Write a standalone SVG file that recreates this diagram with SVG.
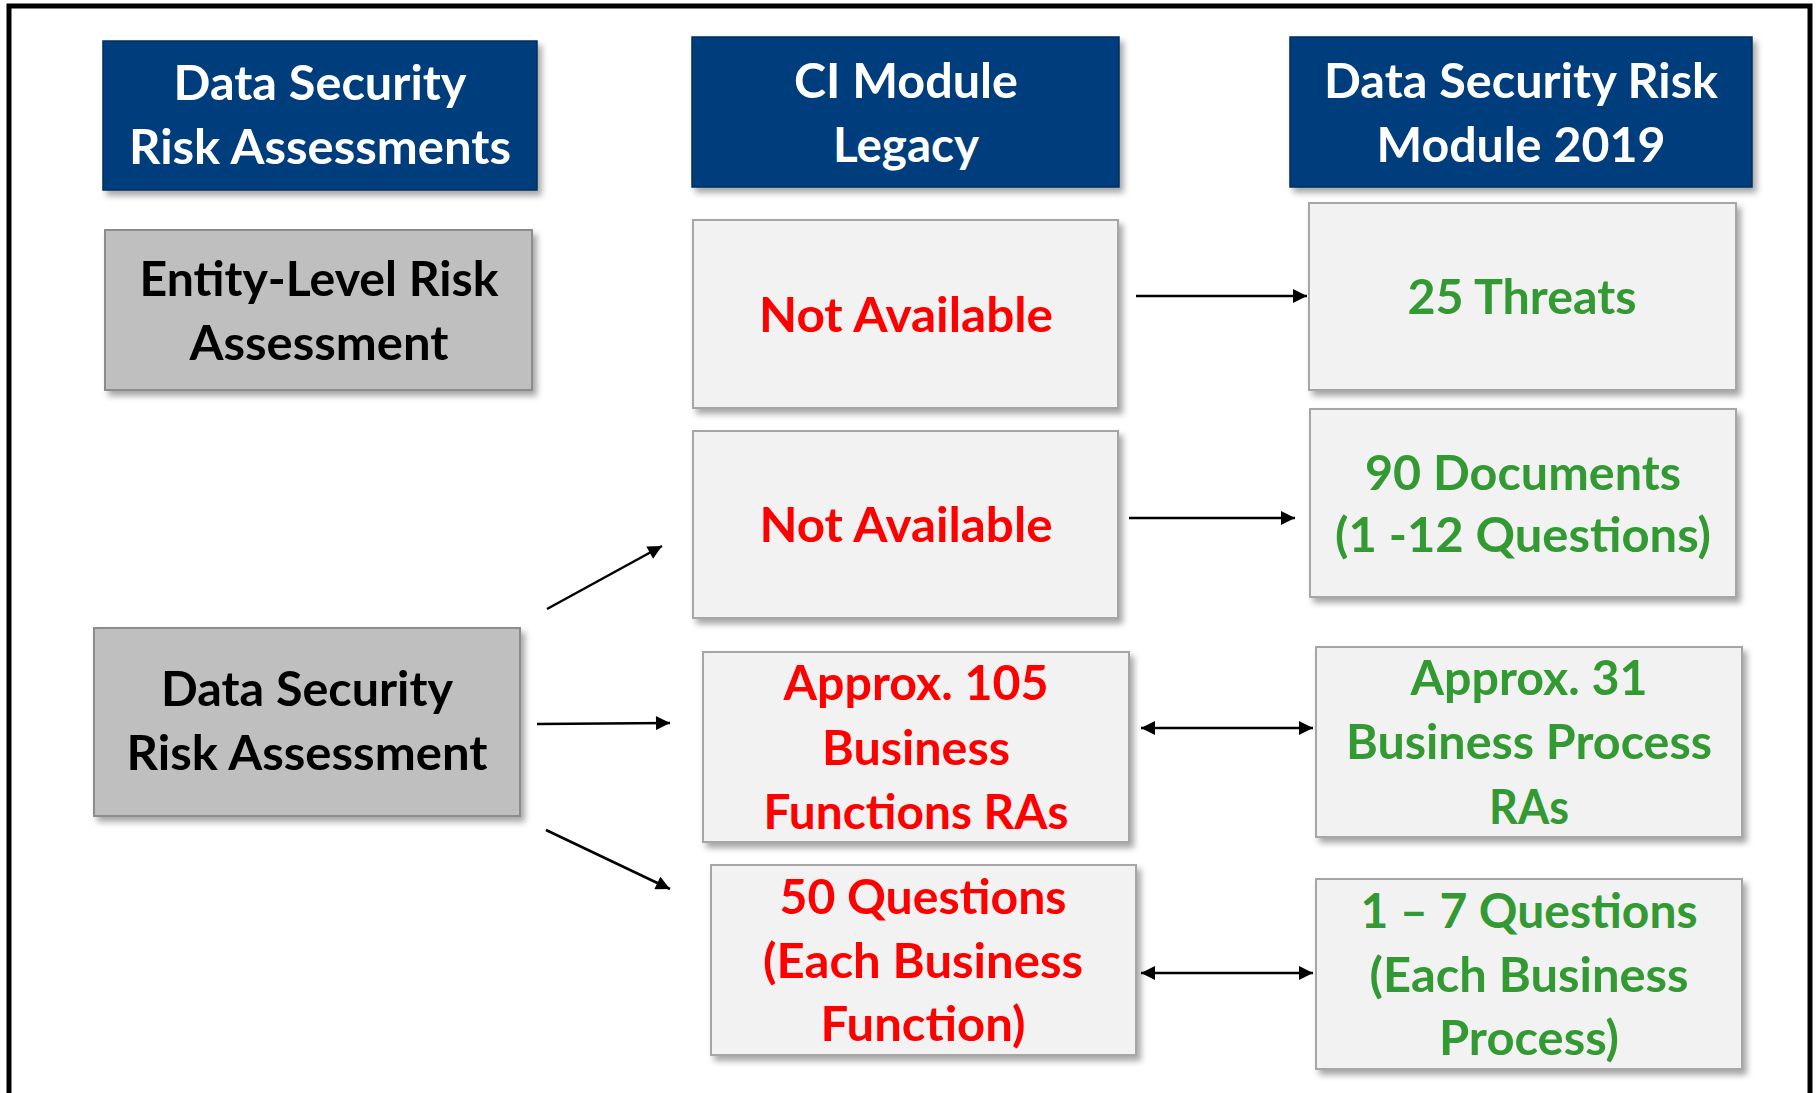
<svg xmlns="http://www.w3.org/2000/svg" width="1818" height="1093" viewBox="0 0 1818 1093">
<defs>
<style>
text{font-family:Lato,"Open Sans","Liberation Sans",sans-serif;font-weight:700;font-size:48px;text-anchor:middle}
.hdr rect{fill:#033E7B;stroke:#022F5E;stroke-width:1.5}
.hdr text{fill:#FFFFFF}
.gry rect{fill:#BFBFBF;stroke:#8C8C8C;stroke-width:2}
.gry text{fill:#000000}
.lt rect{fill:#F2F2F2;stroke:#A6A6A6;stroke-width:2}
.red text{fill:#FF0000}
.grn text{fill:#339933}
.conn line{stroke:#000;stroke-width:2.5;fill:none}
</style>
<filter id="sh" x="-10%" y="-10%" width="125%" height="130%">
<feDropShadow dx="4" dy="5" stdDeviation="3" flood-color="#000" flood-opacity="0.35"/>
</filter>
<marker id="ah" viewBox="0 0 10 10" refX="10" refY="5" markerUnits="userSpaceOnUse" markerWidth="16" markerHeight="14" orient="auto-start-reverse">
<path d="M0,0 L10,5 L0,10 z" fill="#000"/>
</marker>
</defs>
<rect x="0" y="0" width="1818" height="1093" fill="#FFFFFF"/>
<path d="M9,1100 V6 H1810 V1100" fill="none" stroke="#000" stroke-width="5"/>

<g id="h1" class="hdr"><rect x="103" y="41" width="434" height="149" filter="url(#sh)"/>
<text x="320" y="100" textLength="293" lengthAdjust="spacingAndGlyphs">Data Security</text>
<text x="320" y="164" textLength="382" lengthAdjust="spacingAndGlyphs">Risk Assessments</text></g>

<g id="h2" class="hdr"><rect x="692" y="37" width="427" height="150" filter="url(#sh)"/>
<text x="906" y="98" textLength="224" lengthAdjust="spacingAndGlyphs">CI Module</text>
<text x="906" y="162" textLength="146" lengthAdjust="spacingAndGlyphs">Legacy</text></g>

<g id="h3" class="hdr"><rect x="1290" y="37" width="462" height="150" filter="url(#sh)"/>
<text x="1521" y="98" textLength="394" lengthAdjust="spacingAndGlyphs">Data Security Risk</text>
<text x="1521" y="162" textLength="289" lengthAdjust="spacingAndGlyphs">Module 2019</text></g>

<g id="g1" class="gry"><rect x="105" y="230" width="427" height="160" filter="url(#sh)"/>
<text x="319" y="296" textLength="359" lengthAdjust="spacingAndGlyphs">Entity-Level Risk</text>
<text x="319" y="360" textLength="259" lengthAdjust="spacingAndGlyphs">Assessment</text></g>

<g id="g2" class="gry"><rect x="94" y="628" width="426" height="188" filter="url(#sh)"/>
<text x="307" y="706" textLength="292" lengthAdjust="spacingAndGlyphs">Data Security</text>
<text x="307" y="770" textLength="361" lengthAdjust="spacingAndGlyphs">Risk Assessment</text></g>

<g id="l1" class="lt red"><rect x="693" y="220" width="425" height="188" filter="url(#sh)"/>
<text x="906" y="332" textLength="294" lengthAdjust="spacingAndGlyphs">Not Available</text></g>

<g id="l2" class="lt red"><rect x="693" y="431" width="425" height="187" filter="url(#sh)"/>
<text x="906" y="542" textLength="293" lengthAdjust="spacingAndGlyphs">Not Available</text></g>

<g id="l3" class="lt red"><rect x="703" y="652" width="426" height="190" filter="url(#sh)"/>
<text x="916" y="700" textLength="265" lengthAdjust="spacingAndGlyphs">Approx. 105</text>
<text x="916" y="765" textLength="188" lengthAdjust="spacingAndGlyphs">Business</text>
<text x="916" y="829" textLength="305" lengthAdjust="spacingAndGlyphs">Functions RAs</text></g>

<g id="l4" class="lt red"><rect x="711" y="865" width="425" height="190" filter="url(#sh)"/>
<text x="923" y="914" textLength="287" lengthAdjust="spacingAndGlyphs">50 Questions</text>
<text x="923" y="978" textLength="320" lengthAdjust="spacingAndGlyphs">(Each Business</text>
<text x="923" y="1041" textLength="205" lengthAdjust="spacingAndGlyphs">Function)</text></g>

<g id="r1" class="lt grn"><rect x="1309" y="203" width="427" height="187" filter="url(#sh)"/>
<text x="1522" y="314" textLength="229" lengthAdjust="spacingAndGlyphs">25 Threats</text></g>

<g id="r2" class="lt grn"><rect x="1310" y="409" width="426" height="188" filter="url(#sh)"/>
<text x="1523" y="490" textLength="316" lengthAdjust="spacingAndGlyphs">90 Documents</text>
<text x="1523" y="552" textLength="376" lengthAdjust="spacingAndGlyphs">(1 -12 Questions)</text></g>

<g id="r3" class="lt grn"><rect x="1316" y="647" width="426" height="190" filter="url(#sh)"/>
<text x="1529" y="695" textLength="237" lengthAdjust="spacingAndGlyphs">Approx. 31</text>
<text x="1529" y="759" textLength="366" lengthAdjust="spacingAndGlyphs">Business Process</text>
<text x="1529" y="824" textLength="80" lengthAdjust="spacingAndGlyphs">RAs</text></g>

<g id="r4" class="lt grn"><rect x="1316" y="879" width="426" height="190" filter="url(#sh)"/>
<text x="1529" y="928" textLength="337" lengthAdjust="spacingAndGlyphs">1 – 7 Questions</text>
<text x="1529" y="992" textLength="319" lengthAdjust="spacingAndGlyphs">(Each Business</text>
<text x="1529" y="1055" textLength="180" lengthAdjust="spacingAndGlyphs">Process)</text></g>

<g id="connectors" class="conn">
<line x1="1136" y1="296" x2="1307" y2="296" marker-end="url(#ah)"/>
<line x1="1129" y1="518" x2="1295" y2="518" marker-end="url(#ah)"/>
<line x1="1141" y1="728" x2="1313" y2="728" marker-start="url(#ah)" marker-end="url(#ah)"/>
<line x1="1141" y1="973" x2="1313" y2="973" marker-start="url(#ah)" marker-end="url(#ah)"/>
<line x1="547" y1="609" x2="662" y2="546" marker-end="url(#ah)"/>
<line x1="537" y1="724" x2="670" y2="723" marker-end="url(#ah)"/>
<line x1="546" y1="830" x2="670" y2="889" marker-end="url(#ah)"/>
</g>
</svg>
